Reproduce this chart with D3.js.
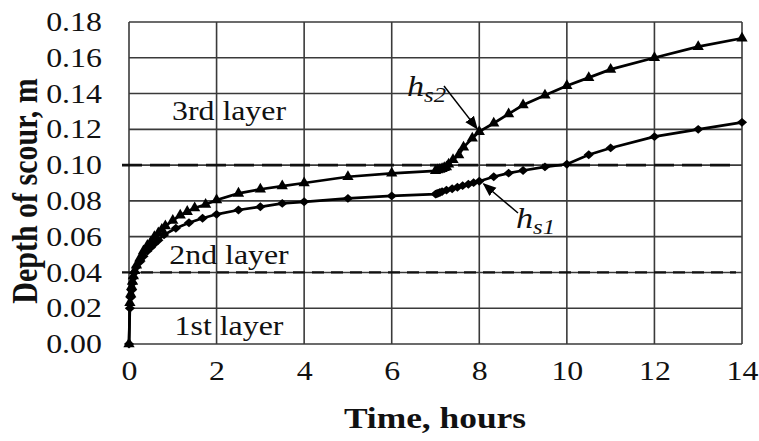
<!DOCTYPE html>
<html>
<head>
<meta charset="utf-8">
<script src="https://cdn.jsdelivr.net/npm/d3@7"></script>
<style>
  body { margin: 0; background: #fff; }
  text { font-family: "Liberation Serif", "Times New Roman", serif; fill: #111; }
</style>
</head>
<body>
<div id="chart"></div>
<script>
// scour depth vs time, two series
const hs1Time  = [0, 0.02, 0.04, 0.06, 0.08, 0.1, 0.13, 0.17, 0.25, 0.33, 0.42, 0.5, 0.58, 0.67, 0.8, 1.07, 1.37, 1.68, 2.0, 2.5, 3.0, 3.5, 4.0, 5.0, 6.0,
                  7.0, 7.03, 7.06, 7.1, 7.15, 7.25, 7.38, 7.5, 7.62, 7.75, 7.87, 8.0, 8.33, 8.67, 9.0, 9.5, 10, 10.5, 11, 12, 13, 14];
const hs1Depth = [0, 0.02, 0.026, 0.03, 0.034, 0.037, 0.04, 0.043, 0.046, 0.049, 0.052, 0.054, 0.056, 0.058, 0.061, 0.0647, 0.0678, 0.0703, 0.0725, 0.0749, 0.0767, 0.0786, 0.0795, 0.0814, 0.0828,
                  0.0838, 0.084, 0.0843, 0.0847, 0.0852, 0.086, 0.0868, 0.0876, 0.0885, 0.0893, 0.0902, 0.091, 0.0935, 0.0955, 0.097, 0.099, 0.1005, 0.1058, 0.1096, 0.1159, 0.12, 0.1239];

const hs2Time  = [0, 0.02, 0.04, 0.06, 0.08, 0.1, 0.13, 0.17, 0.25, 0.33, 0.42, 0.5, 0.58, 0.67, 0.75, 0.83, 1.0, 1.17, 1.33, 1.5, 1.75, 2.0, 2.5, 3.0, 3.5, 4.0, 5.0, 6.0,
                  7.0, 7.05, 7.1, 7.15, 7.2, 7.25, 7.3, 7.4, 7.53, 7.64, 7.84, 8.0, 8.33, 8.67, 9.0, 9.5, 10, 10.5, 11, 12, 13, 14];
const hs2Depth = [0, 0.023, 0.028, 0.032, 0.035, 0.038, 0.041, 0.044, 0.048, 0.052, 0.055, 0.057, 0.06, 0.062, 0.064, 0.066, 0.069, 0.072, 0.074, 0.076, 0.078, 0.0805, 0.0842, 0.0865, 0.0883, 0.09, 0.0935, 0.0954,
                  0.0968, 0.0972, 0.0976, 0.098, 0.0985, 0.099, 0.1005, 0.103, 0.1056, 0.11, 0.115, 0.1187, 0.1234, 0.1286, 0.1336, 0.139, 0.1444, 0.1489, 0.1535, 0.16, 0.1662, 0.1709];

const xTicks = [0, 2, 4, 6, 8, 10, 12, 14];
const yTicks = [0, 0.02, 0.04, 0.06, 0.08, 0.10, 0.12, 0.14, 0.16, 0.18];
const layerLimits = [0.04, 0.10];
const layerNames = ["1st layer", "2nd layer", "3rd layer"];
const layerLabelDepth = [0.01, 0.05, 0.13];

const width = 759, height = 441;
const plotLeft = 129, plotRight = 742, plotTop = 22, plotBottom = 344;
const sx = 1.18; // the figure text looks stretched sideways

const x = d3.scaleLinear().domain([0, 14]).range([plotLeft, plotRight]);
const y = d3.scaleLinear().domain([0, 0.18]).range([plotBottom, plotTop]);

const svg = d3.select('#chart').append('svg')
    .attr('width', width)
    .attr('height', height);

// grid
svg.append('g').selectAll('line').data(yTicks).enter().append('line')
    .attr('x1', plotLeft).attr('x2', plotRight)
    .attr('y1', d => y(d)).attr('y2', d => y(d))
    .attr('stroke', '#3a3a3a').attr('stroke-width', 1.6);
svg.append('g').selectAll('line').data(xTicks).enter().append('line')
    .attr('x1', d => x(d)).attr('x2', d => x(d))
    .attr('y1', plotTop).attr('y2', plotBottom)
    .attr('stroke', '#3a3a3a').attr('stroke-width', 1.6);

// layer boundaries
svg.append('line')
    .attr('x1', plotLeft - 7).attr('x2', plotRight - 6)
    .attr('y1', y(layerLimits[1])).attr('y2', y(layerLimits[1]))
    .attr('stroke', '#111').attr('stroke-width', 2.8)
    .attr('stroke-dasharray', '20 8');
svg.append('line')
    .attr('x1', plotLeft - 7).attr('x2', plotRight - 6)
    .attr('y1', y(layerLimits[0])).attr('y2', y(layerLimits[0]))
    .attr('stroke', '#111').attr('stroke-width', 2.2)
    .attr('stroke-dasharray', '12 7');

// axes, only for the labels
const yAxis = svg.append('g')
    .attr('transform', `translate(${plotLeft},0)`)
    .call(d3.axisLeft(y).tickValues(yTicks).tickFormat(d3.format('.2f')).tickSize(0).tickPadding(23));
const xAxis = svg.append('g')
    .attr('transform', `translate(0,${plotBottom})`)
    .call(d3.axisBottom(x).tickValues(xTicks).tickFormat(d3.format('d')).tickSize(0).tickPadding(17));
[yAxis, xAxis].forEach(a => {
    a.select('.domain').remove();
    a.selectAll('text')
        .attr('font-family', '"Liberation Serif", serif')
        .attr('font-size', 27)
        .attr('fill', '#111')
        .attr('transform', `scale(${sx},1)`);
});

function addText(str, px, py, opts) {
    const g = svg.append('g').attr('transform', `translate(${px},${py})`);
    // rotated text: the sideways stretch falls on the glyph height
    const t = g.append('text')
        .attr('transform', opts.rotate ? `rotate(-90) scale(1,${sx})` : `scale(${sx},1)`)
        .attr('text-anchor', opts.anchor || 'middle')
        .attr('font-size', opts.size || 26)
        .attr('font-weight', opts.bold ? 'bold' : 'normal')
        .attr('font-style', opts.italic ? 'italic' : 'normal')
        .text(str);
    return t;
}

addText('Time, hours', 435, 428, {bold: true, size: 30});
addText('Depth of scour, m', 37, 191, {bold: true, size: 30, rotate: true});

// layer names
layerNames.forEach((n, i) => {
    addText(n, 229, y(layerLabelDepth[i]) + 9, {size: 27});
});

// series
const line = d3.line().x(d => x(d[0])).y(d => y(d[1]));
const s1 = d3.zip(hs1Time, hs1Depth);
const s2 = d3.zip(hs2Time, hs2Depth);

svg.append('path').datum(s1).attr('d', line)
    .attr('fill', 'none').attr('stroke', '#000').attr('stroke-width', 2.7);
svg.append('path').datum(s2).attr('d', line)
    .attr('fill', 'none').attr('stroke', '#000').attr('stroke-width', 2.7);

svg.append('g').selectAll('path').data(s1).enter().append('path')
    .attr('d', d3.symbol(d3.symbolDiamond2, 50))
    .attr('transform', d => `translate(${x(d[0])},${y(d[1])}) scale(1.15,1)`)
    .attr('fill', '#000');
svg.append('g').selectAll('path').data(s2).enter().append('path')
    .attr('d', d3.symbol(d3.symbolTriangle, 55))
    .attr('transform', d => `translate(${x(d[0])},${y(d[1])})`)
    .attr('fill', '#000');

// arrows with h labels
svg.append('defs').append('marker')
    .attr('id', 'head').attr('viewBox', '0 0 10 10')
    .attr('refX', 9).attr('refY', 5)
    .attr('markerWidth', 9).attr('markerHeight', 9)
    .attr('orient', 'auto')
    .append('path').attr('d', 'M0,1 L10,5 L0,9 Z').attr('fill', '#000');

svg.append('line')
    .attr('x1', 444).attr('y1', 86).attr('x2', x(7.95)).attr('y2', y(0.1187) - 3)
    .attr('stroke', '#000').attr('stroke-width', 1.5).attr('marker-end', 'url(#head)');
svg.append('line')
    .attr('x1', 518).attr('y1', 213).attr('x2', x(8.1)).attr('y2', y(0.0917) + 4)
    .attr('stroke', '#000').attr('stroke-width', 1.5).attr('marker-end', 'url(#head)');

function hLabel(px, py, sub) {
    const g = svg.append('g').attr('transform', `translate(${px},${py})`);
    const t = g.append('text').attr('transform', `scale(${sx},1)`)
        .attr('font-style', 'italic').attr('font-size', 29);
    t.append('tspan').text('h');
    t.append('tspan').attr('font-size', 21).attr('dy', 6).text(sub);
}
hLabel(407, 96, 's2');
hLabel(516, 228, 's1');
</script>
</body>
</html>
